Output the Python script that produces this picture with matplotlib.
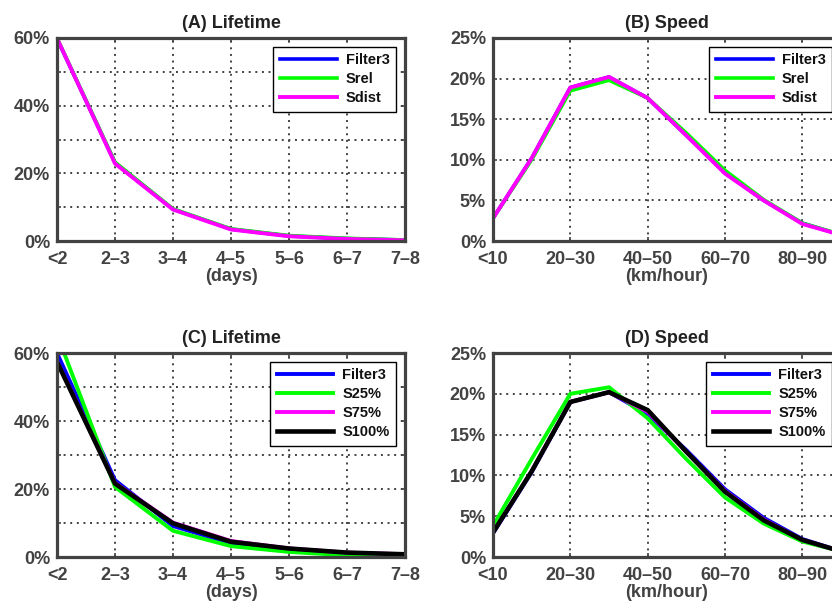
import numpy as np
import matplotlib
matplotlib.use('Agg')
import matplotlib.pyplot as plt

plt.rcParams['font.family'] = ['Liberation Sans', 'DejaVu Sans']
plt.rcParams['font.weight'] = 'bold'

# category labels
lifetime_bins = ['<2', '2–3', '3–4', '4–5', '5–6', '6–7', '7–8']
speed_bins = ['<10', '10–20', '20–30', '30–40', '40–50', '50–60', '60–70', '70–80', '80–90', '90–100']

# (A) lifetime, percent
filter3_life_a = [59.8, 23.1, 9.4, 3.5, 1.5, 0.7, 0.3]
srel_life_a = [60.0, 23.3, 9.5, 3.6, 1.6, 0.8, 0.3]
sdist_life_a = [59.9, 22.9, 9.3, 3.4, 1.4, 0.6, 0.2]

# (B) speed, percent
filter3_speed_b = [2.8, 10.2, 18.9, 20.2, 17.6, 13.0, 8.4, 5.0, 2.2, 0.75]
srel_speed_b = [2.8, 10.0, 18.5, 19.8, 17.6, 13.3, 8.7, 5.1, 2.2, 0.8]
sdist_speed_b = [2.8, 10.2, 18.9, 20.2, 17.6, 13.0, 8.3, 5.0, 2.1, 0.75]

# (C) lifetime, percent
filter3_life_c = [60.0, 22.6, 9.1, 4.0, 2.0, 0.9, 0.5]
s25_life_c = [65.5, 20.6, 7.7, 3.2, 1.5, 0.5, 0.2]
s75_life_c = [57.6, 21.8, 10.1, 4.7, 2.5, 1.3, 0.8]
s100_life_c = [57.4, 21.6, 9.9, 4.5, 2.5, 1.3, 0.8]

# (D) speed, percent
filter3_speed_d = [2.9, 10.4, 19.0, 20.2, 17.5, 13.1, 8.3, 4.8, 2.2, 0.7]
s25_speed_d = [3.8, 12.0, 20.0, 20.8, 17.0, 12.0, 7.3, 4.1, 1.9, 0.7]
s75_speed_d = [3.0, 10.5, 19.0, 20.2, 17.8, 12.9, 8.1, 4.6, 2.1, 0.7]
s100_speed_d = [3.0, 10.5, 19.0, 20.2, 18.0, 12.9, 8.0, 4.5, 2.1, 0.7]

GRAY = '#424242'
BLUE = '#0000ff'
GREEN = '#00ff00'
MAGENTA = '#ff00ff'


def style_axes(ax, xmax, ymax, ystep, label_every, xticks, xlabels, xlabel, title):
    ax.set_xlim(0, xmax)
    ax.set_ylim(0, ymax)
    yt = np.arange(0, ymax + 0.1, ystep)
    ax.set_yticks(yt)
    ax.set_yticklabels(['%d%%' % v if i % label_every == 0 else '' for i, v in enumerate(yt)])
    ax.set_xticks(xticks)
    ax.set_xticklabels(xlabels)
    ax.tick_params(direction='in', length=3, width=1.2, color=GRAY, labelcolor=GRAY,
                   labelsize=13, top=True, right=True)
    ax.tick_params(axis='x', pad=7)
    ax.tick_params(axis='y', pad=5)
    for s in ax.spines.values():
        s.set_linewidth(2.3)
        s.set_color(GRAY)
    ax.grid(True, color=GRAY, linestyle=(0, (1, 2.4)), linewidth=1.4)
    ax.set_axisbelow(True)
    ax.set_xlabel(xlabel, fontsize=13, color=GRAY, labelpad=0.5, fontweight='bold')
    ax.set_title(title, fontsize=13, color='#222222', pad=7, fontweight='bold')
    leg = ax.legend(loc='upper right', bbox_to_anchor=(0.974, 0.958), fancybox=False,
                    edgecolor='black', framealpha=1, fontsize=10.5, handlelength=3.9,
                    labelspacing=0.35, borderpad=0.45, handletextpad=0.6, borderaxespad=0)
    leg.get_frame().set_linewidth(1.0)
    for t in leg.get_texts():
        t.set_color('#111111')


fig = plt.figure(figsize=(8.32, 6.08), dpi=100)

ax_a = fig.add_axes([57 / 832, 367 / 608, 348 / 832, 203 / 608])
ax_b = fig.add_axes([493 / 832, 367 / 608, 348 / 832, 203 / 608])
ax_c = fig.add_axes([57 / 832, 51 / 608, 348 / 832, 204 / 608])
ax_d = fig.add_axes([493 / 832, 51 / 608, 348 / 832, 204 / 608])

xl = np.arange(len(lifetime_bins))
xs = np.arange(len(speed_bins))

ax_a.plot(xl, filter3_life_a, color=BLUE, lw=2.6, label='Filter3')
ax_a.plot(xl, srel_life_a, color=GREEN, lw=2.6, label='Srel')
ax_a.plot(xl, sdist_life_a, color=MAGENTA, lw=2.8, label='Sdist')
style_axes(ax_a, xl[-1], 60, 10, 2, xl, lifetime_bins, '(days)', '(A) Lifetime')

ax_b.plot(xs, filter3_speed_b, color=BLUE, lw=2.6, label='Filter3')
ax_b.plot(xs, srel_speed_b, color=GREEN, lw=2.6, label='Srel')
ax_b.plot(xs, sdist_speed_b, color=MAGENTA, lw=2.8, label='Sdist')
style_axes(ax_b, xs[-1], 25, 5, 1, xs[::2], speed_bins[::2], '(km/hour)', '(B) Speed')

ax_c.plot(xl, filter3_life_c, color=BLUE, lw=2.8, label='Filter3')
ax_c.plot(xl, s25_life_c, color=GREEN, lw=2.8, label='S25%')
ax_c.plot(xl, s75_life_c, color=MAGENTA, lw=2.8, label='S75%')
ax_c.plot(xl, s100_life_c, color='black', lw=3.3, label='S100%')
style_axes(ax_c, xl[-1], 60, 10, 2, xl, lifetime_bins, '(days)', '(C) Lifetime')

ax_d.plot(xs, filter3_speed_d, color=BLUE, lw=2.8, label='Filter3')
ax_d.plot(xs, s25_speed_d, color=GREEN, lw=2.8, label='S25%')
ax_d.plot(xs, s75_speed_d, color=MAGENTA, lw=2.8, label='S75%')
ax_d.plot(xs, s100_speed_d, color='black', lw=3.3, label='S100%')
style_axes(ax_d, xs[-1], 25, 5, 1, xs[::2], speed_bins[::2], '(km/hour)', '(D) Speed')

fig.savefig('out.png', dpi=100)
